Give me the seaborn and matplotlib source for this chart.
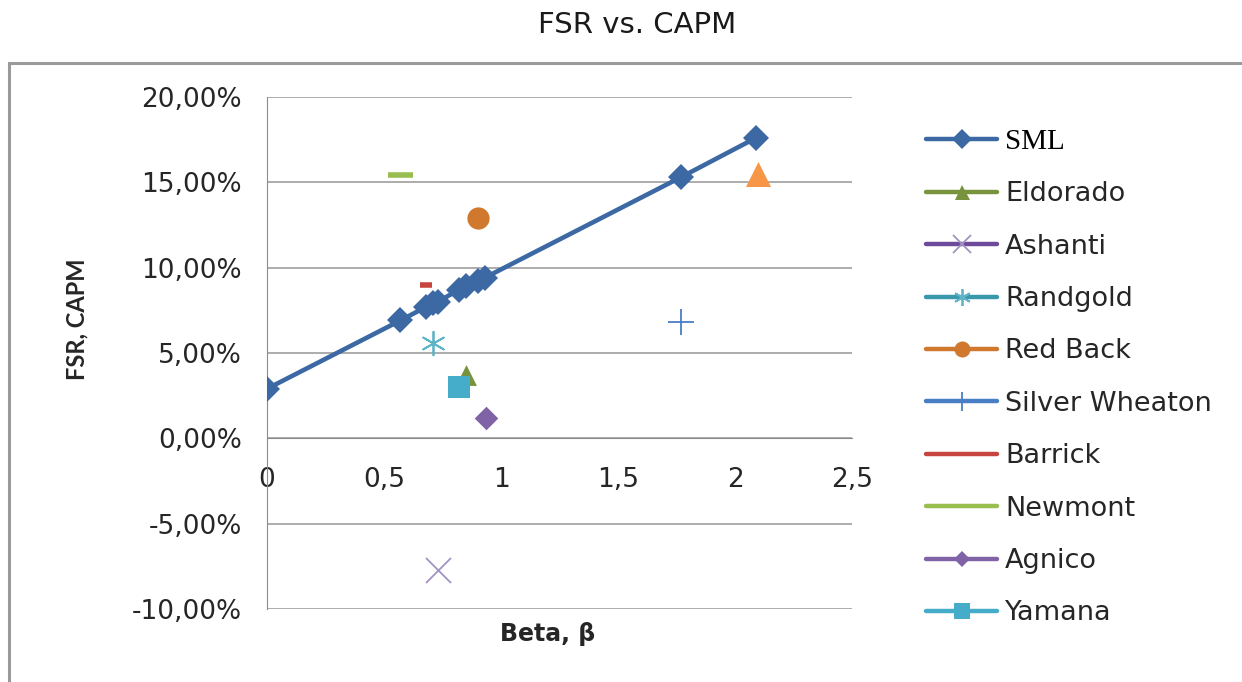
import matplotlib
matplotlib.use("Agg")
import matplotlib.pyplot as plt
from matplotlib.lines import Line2D
from matplotlib.patches import Rectangle
from matplotlib.ticker import FuncFormatter
import seaborn as sns
import pandas as pd

# security market line (beta, expected return in %)
sml_beta = [0, 0.57, 0.68, 0.71, 0.73, 0.82, 0.85, 0.90, 0.93, 1.77, 2.09]
sml_ret = [2.9, 6.9, 7.7, 7.9, 8.0, 8.7, 8.9, 9.2, 9.4, 15.3, 17.6]

# companies (FSR in %)
companies = ["Eldorado", "Ashanti", "Randgold", "Red Back", "Silver Wheaton",
             "Barrick", "Newmont", "Agnico", "Yamana", "Goldcorp"]
comp_beta = [0.85, 0.73, 0.71, 0.90, 1.77, 0.68, 0.57, 0.935, 0.82, 2.10]
comp_fsr = [3.7, -7.7, 5.6, 12.9, 6.8, 9.0, 15.4, 1.2, 3.0, 15.5]

x_ticks = [0, 0.5, 1, 1.5, 2, 2.5]
y_ticks = [-10, -5, 0, 5, 10, 15, 20]

sml_color = "#3C68A4"
styles = {
    "Eldorado": dict(marker="^", color="#77933C", line="#77933C", size=15, lw=0),
    "Ashanti": dict(marker="x", color="#A393C2", line="#6E4A9A", size=18, lw=1.3),
    "Randgold": dict(marker=(6, 2, 0), color="#5FB3C6", line="#3A98AC", size=17, lw=1.3),
    "Red Back": dict(marker="o", color="#D0782E", line="#D0782E", size=16, lw=0),
    "Silver Wheaton": dict(marker="+", color="#4A7EC4", line="#4A7EC4", size=19, lw=1.3),
    "Barrick": dict(marker="_", color="#C8453F", line="#C8453F", size=9, lw=4),
    "Newmont": dict(marker="_", color="#97BE4E", line="#97BE4E", size=18, lw=4),
    "Agnico": dict(marker="D", color="#7F63A6", line="#7F63A6", size=12, lw=0),
    "Yamana": dict(marker="s", color="#45ADC9", line="#45ADC9", size=16, lw=0),
    "Goldcorp": dict(marker="^", color="#F79646", line="#F79646", size=18, lw=0),
}

sns.set_style("white")
plt.rcParams["font.family"] = ["DejaVu Sans"]

fig = plt.figure(figsize=(12.42, 6.82), dpi=100)
ax = fig.add_axes([0.215, 0.107, 0.471, 0.751])

sml_df = pd.DataFrame({"beta": sml_beta, "ret": sml_ret})
sns.lineplot(data=sml_df, x="beta", y="ret", ax=ax, color=sml_color,
             linewidth=3.3, marker="D", markersize=13, markeredgewidth=0,
             zorder=4)

for name, b, f in zip(companies, comp_beta, comp_fsr):
    st = styles[name]
    kw = dict(marker=st["marker"], color=st["color"], s=st["size"] ** 2,
              ax=ax, zorder=5)
    if st["lw"] > 0:
        kw["linewidths"] = st["lw"]
    else:
        kw["linewidth"] = 0
    sns.scatterplot(x=[b], y=[f], **kw)

ax.set_xlabel("")
ax.set_ylabel("")
ax.set_xlim(0, 2.5)
ax.set_ylim(-10, 20)
ax.set_xticks(x_ticks)
ax.set_yticks(y_ticks)
ax.xaxis.set_major_formatter(FuncFormatter(lambda v, p: f"{v:g}".replace(".", ",")))
ax.yaxis.set_major_formatter(FuncFormatter(lambda v, p: f"{v:.2f}%".replace(".", ",")))
ax.yaxis.grid(True, color="#A6A6A6", linewidth=1.3)
ax.set_axisbelow(True)

for s in ["top", "right"]:
    ax.spines[s].set_visible(False)
ax.spines["bottom"].set_position(("data", 0))
ax.spines["bottom"].set_color("#8C8C8C")
ax.spines["left"].set_color("#8C8C8C")
ax.tick_params(axis="x", direction="out", length=7, color="#8C8C8C",
               pad=14, labelsize=19, labelcolor="#262626")
ax.tick_params(axis="y", direction="out", length=7, color="#8C8C8C",
               pad=11, labelsize=19, labelcolor="#262626")

fig.text(0.441, 0.07, "Beta, β", ha="center", va="center",
         fontsize=17, fontweight="bold")
fig.text(0.062, 0.532, "FSR, CAPM", ha="center", va="center",
         rotation=90, fontsize=17, fontweight="bold", family=["Lato", "DejaVu Sans"])
fig.text(0.513, 0.963, "FSR vs. CAPM", ha="center", va="center", fontsize=21,
         color="#1a1a1a")

# legend (Excel-style: line through marker)
handles = [Line2D([], [], color=sml_color, linewidth=3.2, marker="D",
                  markersize=10, markeredgewidth=0)]
labels = ["SML"]
for name in companies[:-1]:
    st = styles[name]
    mk = st["marker"]
    if name in ("Barrick", "Newmont"):
        mk = None
    handles.append(Line2D([], [], color=st["line"], linewidth=3.2, marker=mk,
                          markersize=st["size"] * 0.72,
                          markerfacecolor=st["color"], markeredgecolor=st["color"],
                          markeredgewidth=st["lw"] if st["lw"] > 0 else 0))
    labels.append(name)
leg = fig.legend(handles, labels, loc="upper left",
                 bbox_to_anchor=(0.735, 0.831), frameon=False,
                 fontsize=19.5, handlelength=2.6, handletextpad=0.3,
                 labelspacing=0.975, borderpad=0, labelcolor="#262626")
leg.get_texts()[0].set_fontfamily("Liberation Serif")
leg.get_texts()[0].set_fontsize(21)
leg.get_texts()[0].set_color("black")

fig.add_artist(Rectangle((0.0072, -0.2), 1.2, 1.1076, transform=fig.transFigure,
                         fill=False, edgecolor="#9A9A9A", linewidth=2.2))

fig.savefig("out.png", dpi=100)
